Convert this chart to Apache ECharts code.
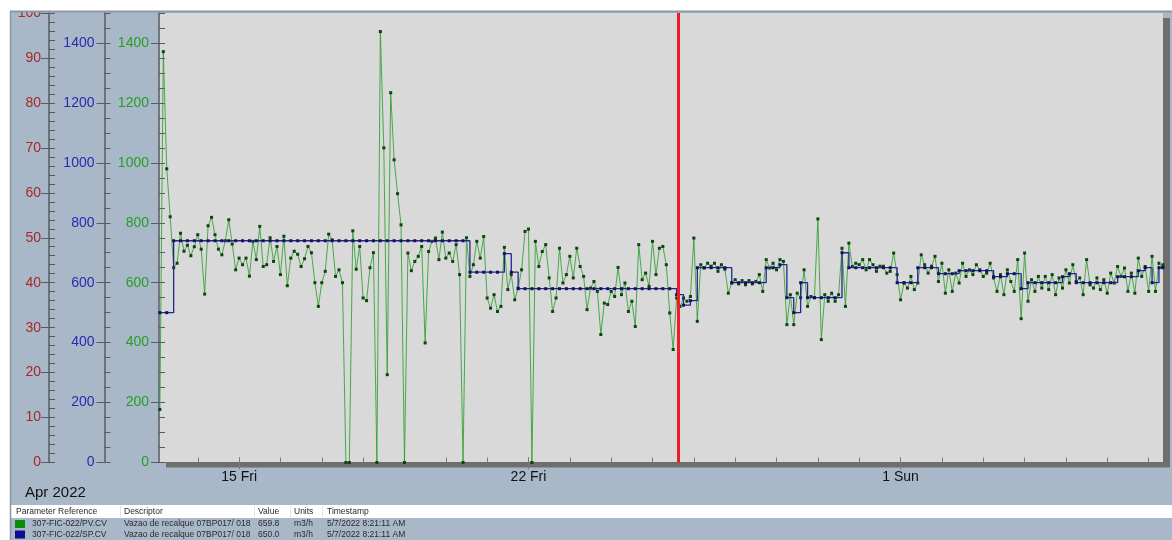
<!DOCTYPE html>
<html>
<head>
<meta charset="utf-8">
<title>307-FIC-022 – Vazao de recalque</title>
<script src="https://cdn.jsdelivr.net/npm/echarts@6.0.0/dist/echarts.min.js"></script>
<style>
  html, body { margin: 0; padding: 0; background: #ffffff; }
  #chart { width: 1172px; height: 540px; }
</style>
</head>
<body>
<div id="chart"></div>
<script>
// ---- Data -----------------------------------------------------------------
// Flow PV (m3/h), one sample every 2 h starting 13 Apr 2022 02:00
const pvFirstHour = 2;
const pvStepHours = 2;
const pvValues = [
  177, 1371, 980, 820, 650, 665, 765, 705, 725, 690,
  720, 760, 712, 562, 790, 818, 760, 712, 693, 740,
  810, 729, 643, 682, 660, 682, 622, 738, 677, 788,
  654, 660, 750, 671, 721, 627, 755, 590, 682, 705,
  695, 654, 680, 721, 700, 600, 521, 600, 638, 762,
  743, 621, 643, 600, 0, 0, 773, 645, 721, 549,
  540, 650, 700, 0, 1438, 1050, 293, 1234, 1010, 897,
  793, 0, 699, 640, 671, 688, 721, 399, 704, 738,
  749, 677, 769, 682, 699, 671, 727, 627, 0, 750,
  621, 660, 738, 682, 754, 549, 515, 560, 504, 521,
  718, 577, 627, 543, 582, 643, 771, 779, 0, 738,
  654, 704, 727, 616, 504, 549, 715, 599, 627, 688,
  616, 715, 654, 621, 510, 582, 604, 571, 427, 532,
  527, 571, 554, 651, 560, 599, 504, 538, 454, 727,
  610, 632, 588, 738, 627, 715, 721, 660, 499, 377,
  549, 521, 549, 538, 554, 749, 471, 660, 649, 665,
  655, 665, 638, 660, 645, 565, 599, 610, 596, 607,
  593, 607, 596, 604, 627, 571, 677, 649, 665, 643,
  677, 671, 460, 560, 460, 565, 550, 643, 521, 554,
  550, 813, 410, 560, 538, 565, 538, 560, 715, 521,
  732, 654, 665, 660, 677, 643, 677, 660, 638, 655,
  655, 632, 638, 699, 627, 543, 599, 582, 621, 577,
  599, 693, 660, 632, 655, 688, 604, 665, 565, 643,
  571, 632, 599, 665, 621, 643, 627, 660, 643, 621,
  632, 665, 616, 571, 627, 560, 643, 604, 571, 677,
  480, 699, 538, 610, 571, 621, 582, 621, 577, 627,
  560, 616, 582, 643, 599, 660, 604, 616, 560, 677,
  593, 582, 616, 577, 610, 565, 632, 599, 654, 621,
  649, 571, 632, 565, 682, 621, 654, 571, 688, 571, 665, 651
];

// Flow setpoint SP (m3/h), one sample every 4 h starting 13 Apr 2022 02:00
const spFirstHour = 2;
const spStepHours = 4;
const spValues = [
  500, 500,
  740, 740, 740, 740, 740, 740, 740, 740, 740, 740,
  740, 740, 740, 740, 740, 740, 740, 740, 740, 740,
  740, 740, 740, 740, 740, 740, 740, 740, 740, 740,
  740, 740, 740, 740, 740, 740, 740, 740, 740, 740,
  740, 740, 740,
  635, 635, 635, 635, 635, 697, 635,
  580, 580, 580, 580, 580, 580, 580, 580, 580, 580,
  580, 580, 580, 580, 580, 580, 580, 580, 580, 580,
  580, 580, 580,
  560, 525, 540,
  650, 650, 650, 650, 650,
  600, 600, 600, 600, 600,
  650, 650, 660,
  550, 500, 600,
  550, 550, 550, 550, 550,
  700,
  650, 650, 650, 650, 650, 650, 650,
  600, 600, 600,
  650, 650, 650,
  630, 630, 630,
  640, 640, 640, 640, 640,
  620, 620,
  630, 630,
  580,
  600, 600, 600, 600, 600,
  620, 630,
  600, 600, 600, 600, 600, 600,
  620, 620, 620,
  640, 650, 600, 650
];

// Current values shown in the pen table
const lastSample = { time: [2022, 4, 7, 8, 21, 11], pv: 659.8, sp: 650.0 };

// Trend cursor
const cursorTime = [2022, 3, 25, 14, 40];

// Date labels on the time axis
const dayLabels = [
  { date: [2022, 3, 15], text: '15 Fri' },
  { date: [2022, 3, 22], text: '22 Fri' },
  { date: [2022, 4, 1],  text: '1 Sun' }
];

// Pen table
const pens = [
  { ref: '307-FIC-022/PV.CV', desc: 'Vazao de recalque 07BP017/ 018', value: lastSample.pv.toFixed(1),
    units: 'm3/h', stamp: '5/7/2022 8:21:11 AM', color: '#0a8c0a' },
  { ref: '307-FIC-022/SP.CV', desc: 'Vazao de recalque 07BP017/ 018', value: lastSample.sp.toFixed(1),
    units: 'm3/h', stamp: '5/7/2022 8:21:11 AM', color: '#0c0c8c' }
];

// ---- Build ----------------------------------------------------------------
const HOUR = 3600 * 1000;
const t0 = new Date(2022, 3, 13, 0, 0, 0).getTime();
const ts = (a) => new Date(a[0], a[1], a[2], a[3] || 0, a[4] || 0, a[5] || 0).getTime();

const axisMin = t0 + 1.5 * HOUR;
const axisMax = ts(lastSample.time);

const pvData = pvValues.map((v, i) => [t0 + (pvFirstHour + pvStepHours * i) * HOUR, v]);
pvData.push([axisMax, lastSample.pv]);
const spData = spValues.map((v, i) => [t0 + (spFirstHour + spStepHours * i) * HOUR, v]);
spData.push([axisMax, lastSample.sp]);

// one tick per midnight
const dayTicks = [];
for (let d = new Date(2022, 3, 14); d.getTime() <= axisMax; d.setDate(d.getDate() + 1)) {
  dayTicks.push(d.getTime());
}
const labelTicks = dayLabels.map(d => ts(d.date));
const labelText = new Map(dayLabels.map(d => [ts(d.date), d.text]));

const FONT = '"Liberation Sans", Arial, Helvetica, sans-serif';
const AXIS_GREY = '#565b61';
const GREEN_TXT = '#23a023';
const BLUE_TXT = '#2a2ab0';
const RED_TXT = '#a82828';

function yAxisPair(offset, max, interval, minorInterval, color, margin, showMax) {
  return [
    {
      type: 'value', position: 'left', offset, min: 0, max, interval,
      axisLine: { show: true, lineStyle: { color: AXIS_GREY, width: 1.5 } },
      axisTick: { show: true, length: 8, lineStyle: { color: AXIS_GREY, width: 1 } },
      axisLabel: {
        color, fontSize: 14, fontFamily: FONT, margin, showMaxLabel: showMax, showMinLabel: true,
        formatter: (v) => String(v)
      },
      splitLine: { show: false }
    },
    {
      type: 'value', position: 'left', offset, min: 0, max, interval: minorInterval,
      axisLine: { show: false },
      axisTick: { show: true, inside: true, length: 6, lineStyle: { color: AXIS_GREY, width: 1 } },
      axisLabel: { show: false },
      splitLine: { show: false }
    }
  ];
}

const yAxes = [
  ...yAxisPair(0, 1500, 200, 50, GREEN_TXT, 10, false),     // 0,1 : PV scale
  ...yAxisPair(54.5, 1500, 200, 50, BLUE_TXT, 10, false),   // 2,3 : SP scale
  ...yAxisPair(110, 100, 10, 2, RED_TXT, 8, true)           // 4,5 : percent scale
];

const TABLE_FONT = 8.5;
function txt(x, y, text, size, extra) {
  return {
    type: 'text', x, y, z: 200, silent: true,
    style: Object.assign({ text, fill: '#2a2a2a', font: size + 'px ' + FONT, textVerticalAlign: 'middle' }, extra || {})
  };
}

const cols = [16, 124, 258, 294, 327];
const graphics = [
  // white margins and panel border
  { type: 'rect', z: 150, silent: true, shape: { x: 0, y: 0, width: 1172, height: 11 }, style: { fill: '#ffffff' } },
  { type: 'rect', z: 150, silent: true, shape: { x: 0, y: 0, width: 10, height: 540 }, style: { fill: '#ffffff' } },
  { type: 'line', z: 151, silent: true, shape: { x1: 10, y1: 11.5, x2: 1172, y2: 11.5 }, style: { stroke: '#8d98a4', lineWidth: 2 } },
  { type: 'line', z: 151, silent: true, shape: { x1: 10.5, y1: 11, x2: 10.5, y2: 540 }, style: { stroke: '#8d98a4', lineWidth: 1.5 } },
  txt(25, 493, 'Apr 2022', 15, { fill: '#111111' }),
  // pen table header
  { type: 'rect', z: 150, silent: true, shape: { x: 11, y: 505, width: 1161, height: 13 }, style: { fill: '#ffffff' } },
  ...[120, 254, 290, 322].map(x => ({
    type: 'line', z: 151, silent: true, shape: { x1: x + 0.5, y1: 506, x2: x + 0.5, y2: 517 }, style: { stroke: '#e3e3e3', lineWidth: 1 }
  })),
  txt(cols[0], 512, 'Parameter Reference', TABLE_FONT),
  txt(cols[1], 512, 'Descriptor', TABLE_FONT),
  txt(cols[2], 512, 'Value', TABLE_FONT),
  txt(cols[3], 512, 'Units', TABLE_FONT),
  txt(cols[4], 512, 'Timestamp', TABLE_FONT)
];
pens.forEach((p, r) => {
  const y = 524 + r * 10.5;
  graphics.push({ type: 'rect', z: 150, silent: true, shape: { x: 15, y: y - 4, width: 10, height: 8 }, style: { fill: p.color } });
  graphics.push(txt(32, y, p.ref, TABLE_FONT));
  graphics.push(txt(cols[1], y, p.desc, TABLE_FONT));
  graphics.push(txt(cols[2], y, p.value, TABLE_FONT));
  graphics.push(txt(cols[3], y, p.units, TABLE_FONT));
  graphics.push(txt(cols[4], y, p.stamp, TABLE_FONT));
});

const option = {
  animation: false,
  backgroundColor: '#a9b8c9',
  textStyle: { fontFamily: FONT },
  grid: {
    left: 159, right: 9, top: 13, bottom: 77.5,
    show: true, backgroundColor: '#d9d9d9', borderWidth: 0,
    shadowColor: '#6e6e6e', shadowBlur: 0, shadowOffsetX: 7, shadowOffsetY: 5
  },
  xAxis: [
    {
      type: 'value', min: axisMin, max: axisMax, position: 'bottom',
      axisLine: { show: true, lineStyle: { color: '#6d6d6d', width: 1 } },
      axisTick: { show: true, inside: true, length: 5, customValues: dayTicks, lineStyle: { color: '#7a7a7a' } },
      axisLabel: {
        show: true, customValues: labelTicks, color: '#111111', fontSize: 14, fontFamily: FONT, margin: 8,
        formatter: (v) => labelText.get(v) || ''
      },
      splitLine: { show: false }
    },
    {
      type: 'value', min: axisMin, max: axisMax, position: 'bottom', offset: -5,
      axisLine: { show: false },
      axisTick: { show: true, length: 12, customValues: labelTicks, lineStyle: { color: '#7a7a7a' } },
      axisLabel: { show: false },
      splitLine: { show: false }
    }
  ],
  yAxis: yAxes,
  series: [
    {
      name: 'PV', type: 'line', xAxisIndex: 0, yAxisIndex: 0, data: pvData,
      symbol: 'rect', symbolSize: 3, showSymbol: true, showAllSymbol: true,
      lineStyle: { color: 'rgba(46,160,46,0.85)', width: 1 },
      itemStyle: { color: '#0d430d' },
      emphasis: { disabled: true }, silent: true, z: 2
    },
    {
      name: 'SP', type: 'line', xAxisIndex: 0, yAxisIndex: 2, data: spData, step: 'end',
      symbol: 'rect', symbolSize: 3, showSymbol: true, showAllSymbol: true,
      lineStyle: { color: '#25258e', width: 1.3 },
      itemStyle: { color: '#12125c' },
      emphasis: { disabled: true }, silent: true, z: 3,
      markLine: {
        silent: true, symbol: ['none', 'none'], label: { show: false }, animation: false,
        lineStyle: { color: '#ee1d27', width: 3, type: 'solid' },
        data: [{ xAxis: ts(cursorTime) }]
      }
    }
  ],
  graphic: graphics
};

const chart = echarts.init(document.getElementById('chart'), null, { renderer: 'canvas' });
chart.setOption(option);
</script>
</body>
</html>
